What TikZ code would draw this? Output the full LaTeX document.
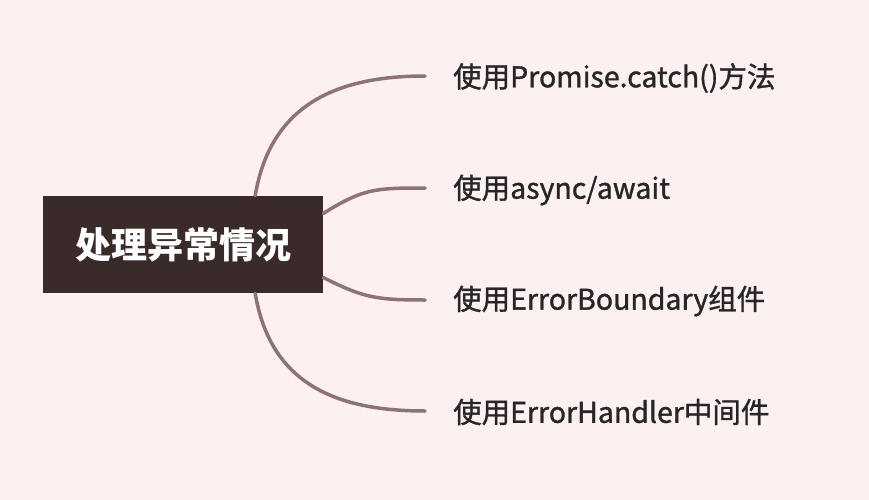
\documentclass[tikz,border=0pt]{standalone}
\usepackage{fontspec}
\setmainfont{Noto Sans CJK SC}
\newfontfamily\leaffont[FakeBold=1.2]{Noto Sans CJK SC}
\definecolor{bgpink}{HTML}{FDF0F0}
\definecolor{rootbrown}{HTML}{3A2A29}
\definecolor{branch}{HTML}{8E7373}
\tikzset{
  leaf/.style={anchor=west,inner sep=0pt,font=\leaffont\fontsize{28.5}{31}\selectfont,text=black!85},
  twig/.style={draw=branch,line width=3.5pt,line cap=round}
}
\begin{document}
\begin{tikzpicture}[x=1pt,y=-1pt]
	\fill[bgpink] (0,0) rectangle (869,500);
	\useasboundingbox (0,0) rectangle (869,500);

	\node[fill=rootbrown,text=white,minimum width=280pt,minimum height=97pt,inner sep=0pt,font=\fontsize{36}{39}\selectfont\bfseries] (root) at (183,244.5) {处理异常情况};

	\coordinate (e1) at (425,76);
	\coordinate (e2) at (425,188);
	\coordinate (e3) at (425,300);
	\coordinate (e4) at (425,411);

	\node[leaf] (l1) at (453,78)  {使用Promise.catch()方法};
	\node[leaf] (l2) at (453,190) {使用async/await};
	\node[leaf] (l3) at (453,301) {使用ErrorBoundary组件};
	\node[leaf] (l4) at (453,412) {使用ErrorHandler中间件};

	\draw[twig] (root.north east) ++(-68,0) .. controls +(15,-90) and +(-90,0) .. (e1);
	\draw[twig] (root.east) ++(0,-31) .. controls +(40,-25) and +(-50,0) .. (e2);
	\draw[twig] (root.east) ++(0,33) .. controls +(40,20) and +(-50,0) .. (e3);
	\draw[twig] (root.south east) ++(-68,0) .. controls +(15,90) and +(-90,0) .. (e4);
\end{tikzpicture}
\end{document}
